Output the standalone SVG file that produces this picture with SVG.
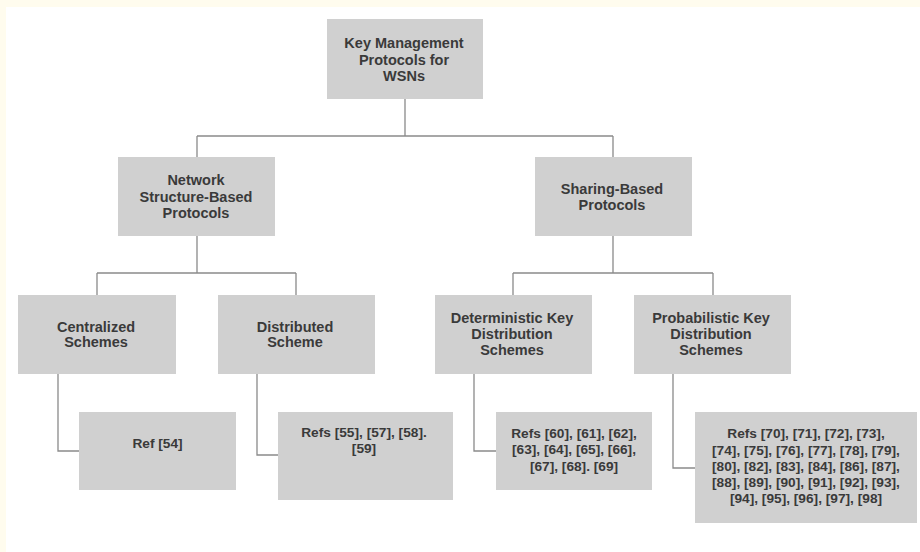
<svg xmlns="http://www.w3.org/2000/svg" width="920" height="552" viewBox="0 0 920 552">
<style>
.box{fill:#d0d0d0}
.t{font-family:"Liberation Sans",Arial,sans-serif;font-size:14.5px;font-weight:bold;fill:#3a3a3a;text-anchor:middle}
.r{font-size:13.7px}
.c{fill:none;stroke:#8a8a8a;stroke-width:1.3}
</style>
<rect x="0" y="0" width="920" height="552" fill="#ffffff"/>
<rect x="0" y="0" width="920" height="7" fill="#fffcee"/>
<rect x="0" y="0" width="6" height="552" fill="#fffcee"/>
<g id="connectors">
<path class="c" d="M405,99 V136 M197,136 H613 M197,136 V157 M613,136 V157"/>
<path class="c" d="M197,236 V273 M97,273 H296 M97,273 V295 M296,273 V295"/>
<path class="c" d="M613,236 V273 M513,273 H713 M513,273 V295 M713,273 V295"/>
<path class="c" d="M58,374 V451 H79"/>
<path class="c" d="M257,374 V455 H278"/>
<path class="c" d="M474,374 V451 H496"/>
<path class="c" d="M673,374 V468 H695"/>
</g>
<g id="root">
<rect class="box" x="327" y="19" width="156" height="80"/>
<text class="t" x="404" y="48">Key Management</text>
<text class="t" x="404" y="64.5">Protocols for</text>
<text class="t" x="404" y="81">WSNs</text>
</g>
<g id="network">
<rect class="box" x="118" y="157" width="157" height="79"/>
<text class="t" x="196" y="185">Network</text>
<text class="t" x="196" y="201.5">Structure-Based</text>
<text class="t" x="196" y="218">Protocols</text>
</g>
<g id="sharing">
<rect class="box" x="535" y="157" width="157" height="79"/>
<text class="t" x="612" y="194">Sharing-Based</text>
<text class="t" x="612" y="210">Protocols</text>
</g>
<g id="centralized">
<rect class="box" x="18" y="295" width="158" height="79"/>
<text class="t" x="96" y="331.5">Centralized</text>
<text class="t" x="96" y="347">Schemes</text>
</g>
<g id="distributed">
<rect class="box" x="218" y="295" width="157" height="79"/>
<text class="t" x="295" y="331.5">Distributed</text>
<text class="t" x="295" y="347">Scheme</text>
</g>
<g id="deterministic">
<rect class="box" x="435" y="295" width="157" height="79"/>
<text class="t" x="512" y="323">Deterministic Key</text>
<text class="t" x="512" y="339">Distribution</text>
<text class="t" x="512" y="355">Schemes</text>
</g>
<g id="probabilistic">
<rect class="box" x="634" y="295" width="157" height="79"/>
<text class="t" x="711" y="323">Probabilistic Key</text>
<text class="t" x="711" y="339">Distribution</text>
<text class="t" x="711" y="355">Schemes</text>
</g>
<g id="ref54">
<rect class="box" x="79" y="412" width="157" height="78"/>
<text class="t r" x="157.5" y="448">Ref [54]</text>
</g>
<g id="refs55">
<rect class="box" x="278" y="412" width="175" height="88"/>
<text class="t r" x="364" y="436.5">Refs [55], [57], [58].</text>
<text class="t r" x="364" y="453">[59]</text>
</g>
<g id="refs60">
<rect class="box" x="496" y="412" width="156" height="78"/>
<text class="t r" x="574" y="438">Refs [60], [61], [62],</text>
<text class="t r" x="574" y="454">[63], [64], [65], [66],</text>
<text class="t r" x="574" y="470.5">[67], [68]. [69]</text>
</g>
<g id="refs70">
<rect class="box" x="695" y="412" width="222" height="111"/>
<text class="t r" x="806" y="438">Refs [70], [71], [72], [73],</text>
<text class="t r" x="806" y="454.5">[74], [75], [76], [77], [78], [79],</text>
<text class="t r" x="806" y="470.5">[80], [82], [83], [84], [86], [87],</text>
<text class="t r" x="806" y="486.5">[88], [89], [90], [91], [92], [93],</text>
<text class="t r" x="806" y="503">[94], [95], [96], [97], [98]</text>
</g>
</svg>
